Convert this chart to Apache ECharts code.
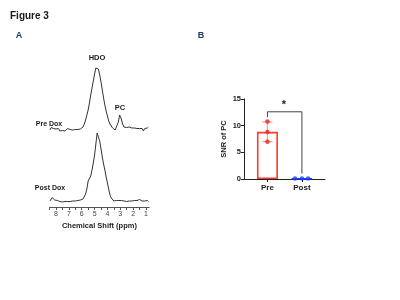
<!DOCTYPE html>
<html>
<head>
<meta charset="utf-8">
<script src="https://cdn.jsdelivr.net/npm/echarts@6/dist/echarts.min.js"></script>
<style>
html,body{margin:0;padding:0;background:#fff;}
#chart{width:400px;height:300px;}
</style>
</head>
<body>
<div id="chart"></div>
<script>
// ---------- DATA ----------
// Panel A: 1H spectra, [chemical shift (ppm), intensity]
var preDox = [
  [8.47,0],[8.38,2.5],[8.3,0.5],[8.2,1.5],[8.1,-0.5],[8.0,1],[7.9,0],[7.8,1.5],[7.7,-1],[7.6,1],
  [7.5,-0.5],[7.4,0.5],[7.3,-1],[7.2,0.5],[7.1,1.5],[7.0,0],[6.9,0.5],[6.8,-0.5],[6.7,0],[6.6,1],
  [6.5,0.5],[6.4,1.5],[6.3,0.5],[6.2,1.5],[6.1,1],[6.0,2],[5.9,3],[5.8,6],[5.7,10],[5.6,15],
  [5.5,20],[5.4,27],[5.3,35],[5.2,42],[5.1,49],[5.0,56],[4.9,62],[4.82,64],[4.7,61],[4.6,55],
  [4.5,48],[4.4,40],[4.3,32],[4.2,25],[4.1,19],[4.0,14],[3.9,9],[3.8,6],[3.7,4],[3.6,2],
  [3.5,1],[3.4,0],[3.33,-2],[3.25,2],[3.15,8],[3.05,15],[3.0,15],[2.92,11],[2.82,6],[2.72,3],
  [2.62,1.5],[2.5,2.5],[2.4,2],[2.3,3],[2.2,1],[2.1,2],[2.0,1.5],[1.9,2],[1.8,1],[1.7,1.5],
  [1.6,2],[1.5,1.5],[1.4,2.5],[1.3,1.5],[1.2,-1],[1.1,1.5],[1.0,0.5],[0.9,2],[0.82,3]
];
var postDox = [
  [8.47,0],[8.4,1.5],[8.3,3.5],[8.2,2.5],[8.1,1],[8.0,1],[7.9,0.5],[7.8,0.5],[7.7,-0.5],[7.6,0],
  [7.5,-1],[7.4,-1],[7.3,-0.5],[7.2,-1],[7.1,-0.5],[7.0,0],[6.9,-0.5],[6.8,0.5],[6.7,0],[6.6,1],
  [6.5,0],[6.4,1],[6.3,0.5],[6.2,0],[6.1,1],[6.0,1.5],[5.9,2],[5.8,4],[5.7,7],[5.6,12],
  [5.5,20],[5.4,22],[5.3,25],[5.2,31],[5.1,38],[5.0,46],[4.9,57],[4.8,68],[4.72,66],[4.6,60],
  [4.5,52],[4.4,44],[4.3,37],[4.2,31],[4.1,24],[4.0,18],[3.9,12],[3.8,6],[3.7,3],[3.6,1],
  [3.5,0],[3.4,-0.5],[3.3,0.5],[3.2,0],[3.1,0.5],[3.0,-0.5],[2.9,0.5],[2.8,1],[2.7,0],[2.6,0.5],
  [2.5,-0.5],[2.4,0.5],[2.3,0],[2.2,1],[2.1,0],[2.0,-0.5],[1.9,0.5],[1.8,1],[1.7,0.5],[1.6,2],
  [1.5,1.5],[1.4,0.5],[1.3,0],[1.2,0.5],[1.1,0],[1.0,0],[0.9,0.5],[0.8,-0.5]
];
var ppmTickLabels = [8,7,6,5,4,3,2,1];
var ppmTickMarks = [8.5,8,7.5,7,6.5,6,5.5,5,4.5,4,3.5,3,2.5,2,1.5,1];

// Panel B: SNR of PC
var groups = ['Pre','Post'];
var barMeans = [8.85, 0.1];
var barSD = [1.85, 0];
var prePoints = [10.8, 8.8, 7.0];
var postPoints = [0.1, 0.1, 0.1];
var snrTicks = [0,5,10,15];
var bracketHeights = [11.6, 12.6, 12.6, 1.0];

// ---------- CHART ----------
var FONT = '"Liberation Sans", Arial, sans-serif';
var RED = '#ff3b2a', RED_DOT = '#e8271c', RED_ERR = '#ff9990', BLUE = '#1f3cff';
var jitter = [-0.2, 0, 0.18];

var chart = echarts.init(document.getElementById('chart'), null, {renderer:'canvas'});

var option = {
  animation:false,
  backgroundColor:'#fff',
  textStyle:{fontFamily:FONT},
  grid:[
    {left:49.6, top:60, width:99.6, height:80},
    {left:49.6, top:131, width:99.6, height:76},
    {left:244, top:99, width:81, height:80}
  ],
  xAxis:[
    {gridIndex:0, type:'value', min:0.75, max:8.5, inverse:true, show:false},
    {gridIndex:1, type:'value', min:0.75, max:8.5, inverse:true, position:'bottom',
      axisLine:{show:true, onZero:false, lineStyle:{color:'#555', width:1}},
      axisTick:{show:true, length:3, customValues:ppmTickMarks, lineStyle:{color:'#555'}},
      axisLabel:{show:true, customValues:ppmTickLabels, fontSize:7, color:'#444', margin:4, fontFamily:FONT},
      splitLine:{show:false},
      name:'Chemical Shift (ppm)', nameLocation:'middle', nameGap:15,
      nameTextStyle:{fontSize:7.5, fontWeight:'bold', color:'#222', fontFamily:FONT}
    },
    {gridIndex:2, type:'value', min:-0.68, max:1.67, position:'bottom',
      axisLine:{show:true, onZero:false, lineStyle:{color:'#222', width:1}},
      axisTick:{show:true, length:3, customValues:[0,1], lineStyle:{color:'#222'}},
      axisLabel:{show:true, customValues:[0,1], margin:5, fontSize:8, fontWeight:'bold', color:'#222', fontFamily:FONT,
        formatter:function(v){ return groups[Math.round(v)]; }},
      splitLine:{show:false}
    }
  ],
  yAxis:[
    {gridIndex:0, type:'value', min:-10, max:70, show:false},
    {gridIndex:1, type:'value', min:-6, max:70, show:false},
    {gridIndex:2, type:'value', min:0, max:15, interval:5, position:'left',
      axisLine:{show:true, onZero:false, lineStyle:{color:'#222', width:1}},
      axisTick:{show:true, length:3, lineStyle:{color:'#222'}},
      axisLabel:{fontSize:7.5, fontWeight:'bold', color:'#222', margin:3, fontFamily:FONT,
        formatter:function(v){ return snrTicks.indexOf(v) >= 0 ? String(v) : ''; }},
      splitLine:{show:false},
      name:'SNR of PC', nameLocation:'middle', nameGap:16,
      nameTextStyle:{fontSize:7.5, fontWeight:'bold', color:'#222', fontFamily:FONT}
    }
  ],
  series:[
    {type:'line', xAxisIndex:0, yAxisIndex:0, data:preDox, showSymbol:false, clip:false,
      lineStyle:{color:'#333', width:1}},
    {type:'line', xAxisIndex:1, yAxisIndex:1, data:postDox, showSymbol:false, clip:false,
      lineStyle:{color:'#333', width:1}},
    {type:'bar', xAxisIndex:2, yAxisIndex:2, barWidth:21, z:2,
      data:barMeans.map(function(m,i){
        return {value:[i,m], itemStyle:{color:'rgba(255,255,255,0)', borderColor:i===0?RED:BLUE, borderWidth:1.6}};
      })
    },
    {type:'custom', xAxisIndex:2, yAxisIndex:2, z:3,
      data:barMeans.map(function(m,i){ return [i, m, barSD[i]]; }).filter(function(d){return d[2]>0;}),
      renderItem:function(params, api){
        var x = api.value(0), m = api.value(1), s = api.value(2);
        var top = api.coord([x, m+s]), bot = api.coord([x, m-s]);
        var st = {stroke:RED_ERR, lineWidth:1.3};
        return {type:'group', children:[
          {type:'line', shape:{x1:top[0], y1:top[1], x2:bot[0], y2:bot[1]}, style:st},
          {type:'line', shape:{x1:top[0]-5, y1:top[1], x2:top[0]+5, y2:top[1]}, style:st},
          {type:'line', shape:{x1:bot[0]-5, y1:bot[1], x2:bot[0]+5, y2:bot[1]}, style:st}
        ]};
      }
    },
    {type:'scatter', xAxisIndex:2, yAxisIndex:2, z:4, symbolSize:4.5,
      itemStyle:{color:RED_DOT},
      data:prePoints.map(function(v){ return [0, v]; })},
    {type:'scatter', xAxisIndex:2, yAxisIndex:2, z:4, symbolSize:4.5,
      itemStyle:{color:BLUE},
      data:postPoints.map(function(v,i){ return [1 + jitter[i], v]; })},
    {type:'line', xAxisIndex:2, yAxisIndex:2, z:3, showSymbol:false,
      lineStyle:{color:'#444', width:1},
      data:[[0,bracketHeights[0]],[0,bracketHeights[1]],[1,bracketHeights[2]],[1,bracketHeights[3]]]}
  ],
  graphic:[
    {type:'text', x:10, y:16, style:{text:'Figure 3', font:'bold 10px '+FONT, fill:'#1a1a1a', verticalAlign:'middle'}},
    {type:'text', x:19, y:36, style:{text:'A', font:'bold 9px '+FONT, fill:'#1f3864', align:'center', verticalAlign:'middle'}},
    {type:'text', x:201, y:36, style:{text:'B', font:'bold 9px '+FONT, fill:'#1f3864', align:'center', verticalAlign:'middle'}},
    {type:'text', x:97, y:58, style:{text:'HDO', font:'bold 7.5px '+FONT, fill:'#1a1a1a', align:'center', verticalAlign:'middle'}},
    {type:'text', x:120, y:108, style:{text:'PC', font:'bold 7.5px '+FONT, fill:'#1a1a1a', align:'center', verticalAlign:'middle'}},
    {type:'text', x:49, y:124, style:{text:'Pre Dox', font:'bold 7px '+FONT, fill:'#1a1a1a', align:'center', verticalAlign:'middle'}},
    {type:'text', x:50, y:188, style:{text:'Post Dox', font:'bold 7px '+FONT, fill:'#1a1a1a', align:'center', verticalAlign:'middle'}},
    {type:'text', x:284, y:105, style:{text:'*', font:'bold 11px '+FONT, fill:'#1a1a1a', align:'center', verticalAlign:'middle'}}
  ]
};
chart.setOption(option);
</script>
</body>
</html>
